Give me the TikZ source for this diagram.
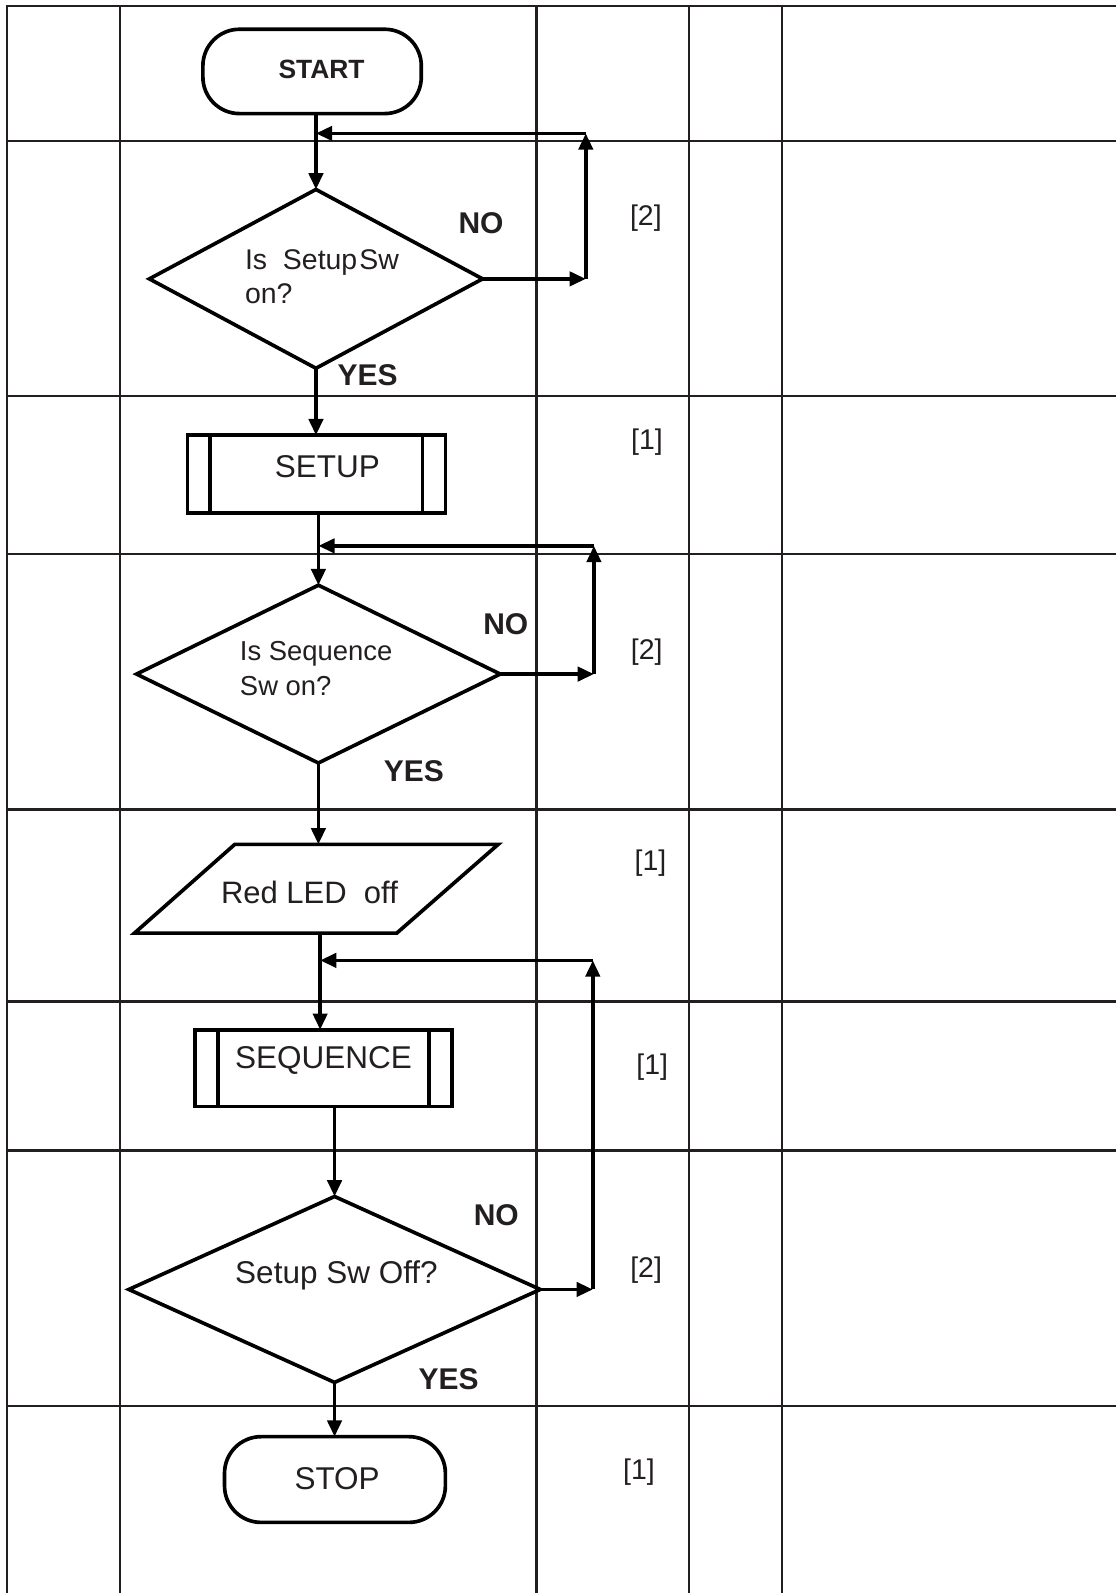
\documentclass[tikz,border=0pt]{standalone}
\usepackage{fontspec}
\setmainfont{Liberation Sans}
\usetikzlibrary{shapes.geometric,arrows.meta,calc}
\definecolor{txt}{HTML}{231F20}
\begin{document}
\begin{tikzpicture}[x=1pt,y=-1pt,
  gridline/.style={draw=txt, line width=2.2pt, line cap=rect},
  shp/.style={draw=black, line width=3.6pt, inner sep=0pt, outer sep=0pt},
  bar/.style={draw=black, line width=3.6pt},
  conn/.style={draw=black, line width=3.6pt, -{Triangle[length=16pt,width=14pt]}},
  tx/.style={text=txt, inner sep=0pt},
  maintx/.style={tx, font=\fontsize{31}{36}\selectfont},
  dtx/.style={tx, font=\fontsize{27}{34}\selectfont, align=left, anchor=west},
  yn/.style={tx, font=\bfseries\fontsize{29.5}{34}\selectfont},
  pts/.style={tx, font=\fontsize{28}{34}\selectfont}
]
\useasboundingbox (0,0) rectangle (1098,1568);
\fill[white] (0,0) rectangle (1098,1568);

% table grid
\foreach \x in {7,118,528,678,770} \draw[gridline] (\x,6) -- (\x,1568);
\foreach \y in {6,139,390,545.5,796.7,985.7,1132.5,1383.6} \draw[gridline] (7,\y) -- (1098,\y);

% shapes
\node[shp, rounded corners=36pt, minimum width=215pt, minimum height=83pt] (start) at (307.2,70.3) {};
\node[tx, font=\bfseries\fontsize{26}{30}\selectfont] (starttxt) at (316.5,68) {START};

\node[shp, diamond, minimum width=328pt, minimum height=176pt] (d1) at (311,274.5) {};
\node[dtx, font=\fontsize{28}{34}\selectfont] (d1txt) at (241,272.5) {Is\ \ Setup\hspace{2pt}Sw\\on?};

\node[shp, minimum width=254pt, minimum height=76.4pt] (setup) at (311.4,466.6) {};
\draw[bar] ($(setup.north west)+(22.2,0)$) -- ($(setup.south west)+(22.2,0)$);
\draw[bar] ($(setup.north east)+(-22.6,0)$) -- ($(setup.south east)+(-22.6,0)$);
\node[maintx] (setuptxt) at (322.3,459.5) {SETUP};

\node[shp, diamond, minimum width=358pt, minimum height=175pt] (d2) at (313.4,663.5) {};
\node[dtx] (d2txt) at (236,658) {Is Sequence\\Sw on?};

\draw[shp] (231.1,831.1) -- (490.4,831.1) -- (390.5,918.5) -- (132.3,918.5) -- cycle;
\coordinate (ptop) at (313.4,831.1);
\coordinate (pbot) at (315.1,918.5);
\node[tx, font=\fontsize{30.5}{36}\selectfont] (ledtxt) at (304.6,878) {Red LED\ \ off};

\node[shp, minimum width=253.3pt, minimum height=75.6pt] (seq) at (318.5,1051.4) {};
\draw[bar] ($(seq.north west)+(22.7,0)$) -- ($(seq.south west)+(22.7,0)$);
\draw[bar] ($(seq.north east)+(-22.7,0)$) -- ($(seq.south east)+(-22.7,0)$);
\node[maintx] (seqtxt) at (318.4,1043.8) {SEQUENCE};

\node[shp, diamond, minimum width=405pt, minimum height=183pt] (d3) at (329.3,1269.2) {};
\node[maintx] (d3txt) at (331.2,1255) {Setup Sw Off?};

\node[shp, rounded corners=36pt, minimum width=217.4pt, minimum height=84.4pt] (stop) at (329.7,1456.3) {};
\node[maintx] (stoptxt) at (331.8,1455.7) {STOP};

% main flow
\draw[conn] (start.south -| d1.north) -- (d1.north);
\draw[conn] (d1.south) -- (d1.south |- setup.north);
\draw[conn] (d2.north |- setup.south) -- (d2.north);
\draw[conn] (d2.south) -- (ptop);
\draw[conn] (pbot) -- (pbot |- seq.north);
\draw[conn] (d3.north |- seq.south) -- (d3.north);
\draw[conn] (d3.south) -- (d3.south |- stop.north);

% loops
\coordinate (l1a) at (576.6,274.5);
\coordinate (l1b) at (576.6,131.3);
\draw[conn] (d1.east) -- (l1a);
\draw[conn] (l1a) -- (l1b);
\draw[conn] (l1b) -- (l1b -| d1.north);

\coordinate (l2a) at (584.6,663.5);
\coordinate (l2b) at (584.6,537.3);
\draw[conn] (d2.east) -- (l2a);
\draw[conn] (l2a) -- (l2b);
\draw[conn] (l2b) -- (l2b -| d2.north);

\coordinate (l3a) at (583.5,1269.2);
\coordinate (l3b) at (583.5,945.3);
\draw[conn] (d3.east) -- (l3a);
\draw[conn] (l3a) -- (l3b);
\draw[conn] (l3b) -- (l3b -| pbot);

% NO / YES labels
\node[yn] (no1) at (473.5,219.3) {NO};
\node[yn] (yes1) at (361.8,369.3) {YES};
\node[yn] (no2) at (497.8,614.5) {NO};
\node[yn] (yes2) at (407.3,759) {YES};
\node[yn] (no3) at (488.5,1196.5) {NO};
\node[yn] (yes3) at (441.5,1357.3) {YES};

% marks
\node[pts] (m1) at (635.7,215) {[2]};
\node[pts] (m2) at (636.8,435) {[1]};
\node[pts] (m3) at (636.5,641.7) {[2]};
\node[pts] (m4) at (640.2,850) {[1]};
\node[pts] (m5) at (642,1050.4) {[1]};
\node[pts] (m6) at (636,1250.6) {[2]};
\node[pts] (m7) at (628.9,1449.2) {[1]};
\end{tikzpicture}
\end{document}
